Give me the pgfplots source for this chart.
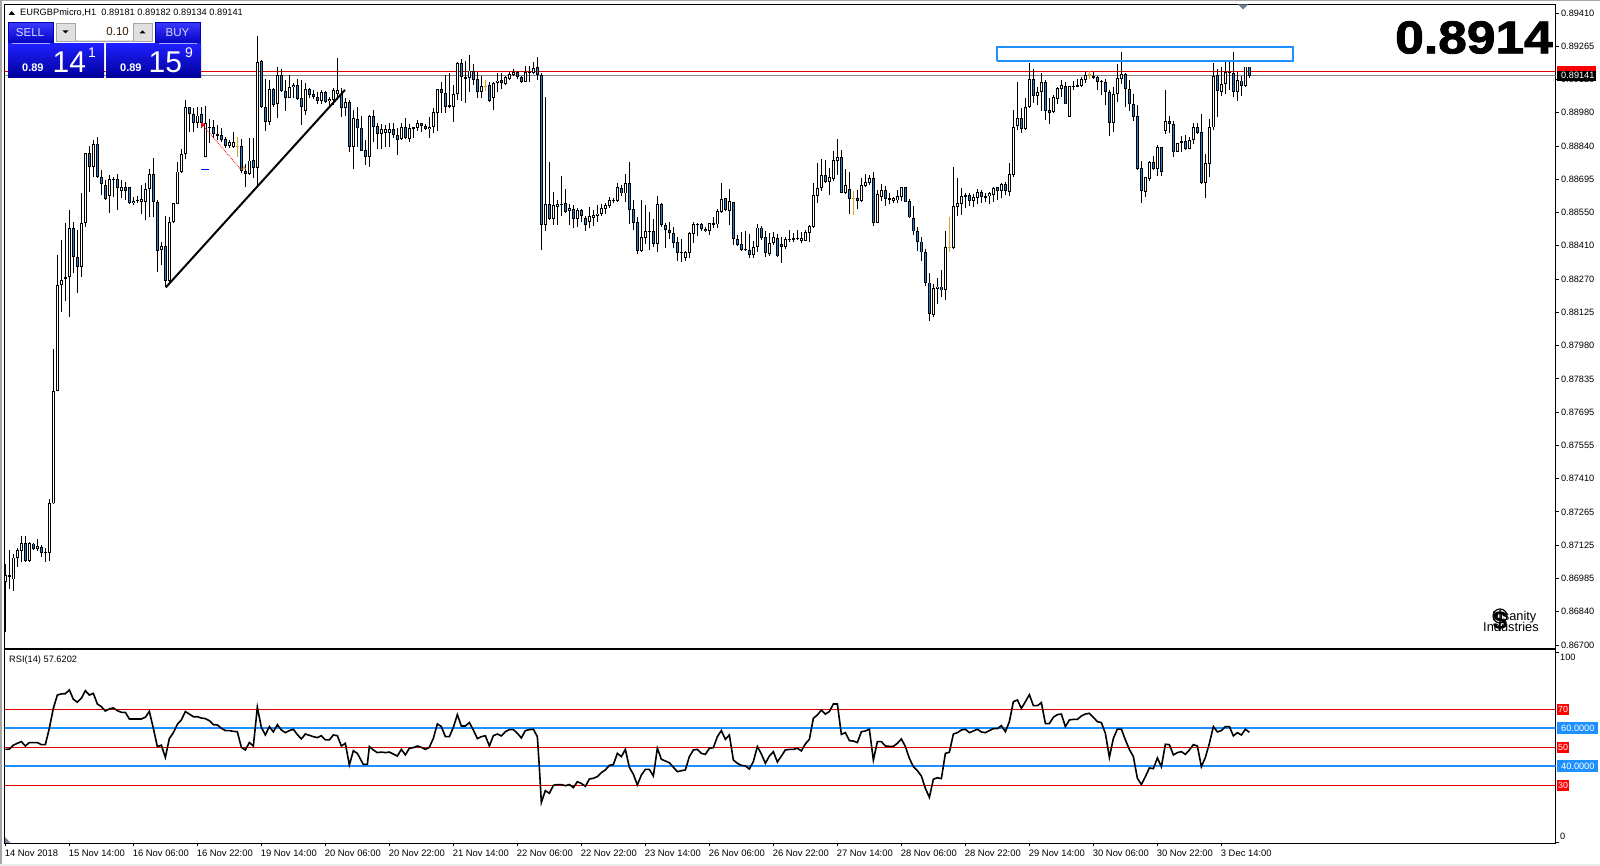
\documentclass[border=0pt]{standalone}
\usepackage{fontspec}
\setmainfont{Liberation Sans}
\newfontfamily\bigfont[UprightFont=* Bold,FakeBold=1.8]{Liberation Sans}
\usepackage{pgfplots}
\usepackage{pgfplotstable}
\pgfplotsset{compat=1.18}
\definecolor{dodger}{HTML}{1E90FF}
\definecolor{candleblue}{HTML}{1E7FD8}
\definecolor{candlegold}{HTML}{DAA520}
\definecolor{slategrey}{HTML}{708090}
\definecolor{lineg}{HTML}{808890}
\definecolor{lred}{HTML}{E00000}
% prices in points (1e-5); k: 0 white, 1 blue, 2 gold
\pgfplotstableread{
i k bot top lo hi
0 0 86971 86999 86756 87049
1 0 86992 86999 86942 87106
2 0 86981 87075 86932 87089
3 0 87075 87109 87035 87118
4 0 87104 87139 87056 87167
5 1 87061 87139 87056 87167
6 0 87061 87137 87056 87142
7 1 87112 87135 87106 87139
8 0 87112 87124 87104 87154
9 1 87096 87121 87078 87128
10 0 87095 87099 87056 87114
11 0 87096 87307 87061 87328
12 0 87307 87790 87304 87967
13 0 87790 88243 87787 88372
14 0 88242 88265 88129 88436
15 0 88268 88276 88175 88508
16 0 88276 88486 88105 88565
17 1 88362 88486 88293 88515
18 1 88322 88362 88208 88479
19 0 88322 88511 88279 88639
20 0 88511 88808 88494 88811
21 1 88751 88808 88644 88841
22 0 88751 88847 88708 88865
23 1 88708 88847 88701 88880
24 1 88675 88708 88629 88737
25 1 88614 88671 88608 88694
26 0 88627 88697 88551 88715
27 1 88692 88697 88622 88708
28 1 88661 88697 88565 88720
29 0 88648 88662 88615 88694
30 1 88648 88662 88608 88687
31 1 88594 88662 88591 88665
32 0 88594 88604 88587 88619
33 1 88602 88608 88597 88625
34 0 88601 88611 88548 88672
35 0 88601 88654 88522 88682
36 0 88654 88720 88536 88741
37 1 88598 88720 88536 88787
38 1 88391 88598 88301 88608
39 0 88393 88412 88329 88429
40 1 88262 88411 88236 88539
41 0 88262 88512 88243 88536
42 0 88512 88594 88508 88594
43 0 88591 88730 88591 88770
44 0 88730 88804 88725 88825
45 0 88804 89006 88782 89037
46 1 88976 89006 88901 89006
47 1 88937 88976 88901 89001
48 0 88940 88970 88915 89006
49 1 88940 88976 88915 89008
50 0 88791 88937 88791 89011
51 1 88918 88923 88851 88954
52 1 88890 88920 88873 88951
53 1 88884 88890 88865 88930
54 1 88865 88885 88858 88915
55 1 88840 88868 88830 88877
56 0 88840 88855 88830 88865
57 0 88837 88855 88830 88901
58 2 88837 88840 88791 88880
59 1 88734 88840 88722 88868
60 1 88718 88734 88662 88762
61 0 88718 88777 88715 88873
62 1 88747 88780 88701 88873
63 0 88747 89200 88672 89312
64 1 89006 89203 89001 89206
65 1 88943 89006 88904 89126
66 0 88944 89083 88930 89123
67 1 89016 89083 89008 89087
68 0 89018 89143 88958 89180
69 1 89077 89143 89073 89169
70 1 89047 89077 88991 89123
71 0 89047 89091 89044 89144
72 0 89091 89101 89044 89108
73 1 89043 89100 89037 89126
74 1 89006 89044 88930 89123
75 0 88991 89083 88973 89108
76 1 89058 89083 89044 89087
77 1 89051 89061 89040 89080
78 1 89033 89051 89020 89073
79 0 89033 89070 89020 89080
80 1 89030 89070 89023 89077
81 0 89031 89040 89011 89051
82 0 89037 89080 89016 89087
83 0 89061 89080 89037 89216
84 1 89001 89061 88963 89087
85 0 89001 89026 88966 89044
86 1 88837 89026 88815 89037
87 0 88837 88958 88740 88994
88 1 88915 88955 88837 89006
89 1 88820 88915 88820 88966
90 1 88791 88822 88758 88865
91 0 88791 88968 88751 88973
92 1 88923 88966 88858 88994
93 1 88891 88925 88825 88940
94 0 88891 88911 88825 88934
95 0 88897 88911 88837 88930
96 0 88897 88911 88837 88940
97 1 88888 88911 88873 88937
98 1 88865 88885 88801 88915
99 0 88868 88919 88865 88937
100 1 88872 88919 88868 88958
101 0 88869 88915 88858 88934
102 0 88914 88919 88872 88922
103 0 88918 88937 88904 88951
104 1 88927 88937 88901 88937
105 1 88911 88927 88908 88934
106 0 88911 88922 88875 88962
107 0 88922 88984 88897 89001
108 0 88982 89082 88905 89082
109 1 89065 89082 88979 89115
110 1 89008 89065 88979 89144
111 1 89007 89014 89001 89151
112 0 89008 89061 88944 89101
113 0 89061 89194 89037 89201
114 1 89134 89194 89034 89211
115 1 89128 89134 89022 89205
116 0 89130 89163 89072 89230
117 1 89124 89160 89101 89191
118 1 89072 89125 89045 89158
119 0 89072 89095 89045 89140
120 2 89092 89097 89075 89122
121 1 89034 89101 89030 89115
122 0 89045 89111 88994 89115
123 0 89108 89120 89072 89151
124 1 89108 89122 89082 89151
125 0 89105 89135 89101 89140
126 0 89128 89147 89122 89158
127 0 89145 89157 89140 89170
128 1 89137 89155 89125 89163
129 1 89115 89135 89111 89140
130 0 89115 89155 89115 89183
131 0 89154 89158 89115 89184
132 0 89154 89174 89147 89200
133 1 89144 89177 89122 89220
134 1 88502 89144 88393 89151
135 0 88502 88589 88475 89048
136 1 88528 88589 88522 88769
137 0 88528 88585 88500 88641
138 0 88579 88589 88500 88608
139 1 88585 88591 88539 88711
140 1 88558 88593 88553 88655
141 0 88559 88572 88500 88591
142 1 88525 88568 88489 88586
143 0 88525 88563 88493 88575
144 1 88540 88563 88515 88571
145 1 88499 88529 88476 88539
146 0 88512 88538 88486 88576
147 0 88532 88542 88496 88565
148 0 88540 88550 88515 88586
149 0 88549 88572 88539 88591
150 0 88571 88585 88550 88593
151 0 88583 88606 88572 88619
152 0 88603 88608 88593 88618
153 0 88605 88662 88601 88679
154 1 88636 88658 88626 88672
155 0 88636 88679 88601 88718
156 1 88566 88679 88503 88769
157 1 88510 88568 88479 88608
158 1 88390 88512 88376 88533
159 0 88390 88448 88386 88608
160 0 88446 88473 88419 88586
161 1 88470 88475 88393 88558
162 1 88420 88473 88407 88525
163 0 88420 88589 88386 88625
164 1 88499 88591 88493 88593
165 1 88478 88499 88403 88508
166 1 88465 88478 88439 88515
167 1 88425 88465 88400 88493
168 1 88379 88426 88346 88450
169 0 88379 88387 88343 88440
170 0 88360 88383 88347 88389
171 0 88379 88466 88360 88472
172 0 88463 88503 88422 88515
173 1 88499 88505 88455 88508
174 1 88485 88503 88476 88510
175 1 88475 88485 88469 88493
176 0 88476 88508 88458 88508
177 0 88502 88508 88488 88533
178 0 88503 88559 88490 88571
179 0 88558 88611 88553 88679
180 1 88565 88615 88561 88618
181 0 88562 88602 88500 88653
182 1 88439 88601 88415 88601
183 1 88416 88439 88410 88458
184 1 88393 88418 88390 88470
185 1 88392 88397 88390 88475
186 1 88373 88393 88360 88462
187 0 88373 88405 88360 88433
188 0 88405 88490 88386 88505
189 1 88446 88490 88436 88496
190 1 88379 88448 88365 88476
191 0 88376 88422 88369 88465
192 0 88422 88448 88415 88472
193 1 88369 88443 88365 88462
194 1 88407 88418 88339 88450
195 0 88407 88440 88396 88450
196 0 88436 88440 88429 88479
197 1 88436 88443 88429 88465
198 0 88440 88446 88436 88479
199 0 88433 88443 88425 88472
200 0 88433 88470 88433 88479
201 0 88465 88496 88429 88500
202 0 88493 88629 88486 88679
203 0 88626 88658 88596 88765
204 0 88658 88714 88648 88782
205 1 88686 88714 88679 88779
206 0 88686 88705 88629 88744
207 0 88699 88779 88691 88818
208 0 88776 88791 88715 88869
209 1 88639 88791 88639 88822
210 0 88639 88671 88633 88739
211 1 88613 88653 88548 88726
212 2 88612 88616 88543 88646
213 1 88605 88615 88569 88651
214 0 88602 88671 88601 88701
215 0 88669 88683 88665 88719
216 0 88682 88701 88672 88715
217 1 88508 88701 88498 88726
218 0 88510 88633 88510 88651
219 0 88622 88649 88605 88675
220 1 88611 88649 88583 88668
221 1 88609 88615 88589 88636
222 0 88605 88615 88593 88622
223 0 88606 88623 88593 88651
224 0 88622 88662 88602 88662
225 1 88601 88662 88601 88662
226 1 88533 88602 88529 88611
227 1 88473 88529 88460 88582
228 1 88429 88473 88390 88493
229 1 88383 88430 88347 88450
230 1 88253 88383 88239 88396
231 1 88121 88254 88090 88297
232 0 88117 88229 88107 88247
233 0 88227 88237 88162 88272
234 1 88220 88237 88190 88307
235 0 88224 88405 88179 88475
236 2 88402 88407 88386 88533
237 0 88402 88581 88399 88751
238 0 88579 88593 88539 88701
239 0 88592 88623 88543 88658
240 1 88622 88629 88572 88636
241 1 88603 88628 88582 88636
242 0 88605 88619 88579 88633
243 0 88618 88642 88589 88653
244 1 88622 88642 88593 88651
245 1 88618 88625 88601 88636
246 0 88623 88638 88591 88643
247 0 88631 88658 88601 88665
248 1 88648 88662 88608 88665
249 0 88648 88675 88615 88682
250 1 88648 88675 88629 88686
251 0 88643 88718 88625 88765
252 0 88715 88922 88708 88994
253 0 88925 88958 88908 89115
254 1 88914 88958 88897 89001
255 0 88912 89008 88908 89044
256 0 89008 89125 89004 89197
257 1 89055 89125 89025 89168
258 0 89055 89070 89015 89094
259 0 89070 89112 88991 89154
260 1 88991 89112 88951 89122
261 1 88982 88992 88934 89044
262 0 88985 89048 88979 89058
263 0 89042 89087 89020 89094
264 0 89084 89100 89051 89122
265 1 89021 89097 89020 89115
266 0 88965 89097 88965 89097
267 1 89094 89098 89080 89120
268 1 89094 89100 89094 89125
269 0 89098 89125 89094 89137
270 0 89122 89145 89111 89158
271 2 89144 89150 89125 89163
272 1 89133 89141 89127 89158
273 1 89115 89134 89080 89140
274 1 89112 89118 89058 89122
275 1 89070 89112 89015 89125
276 1 88937 89070 88882 89080
277 0 88937 89061 88901 89094
278 0 89061 89130 89030 89191
279 0 89128 89147 89105 89243
280 1 89082 89147 89005 89154
281 1 89021 89082 88991 89122
282 1 88965 89020 88948 89061
283 1 88742 88967 88736 89015
284 1 88648 88744 88596 88775
285 0 88643 88705 88622 88708
286 0 88699 88771 88691 88775
287 1 88741 88771 88736 88796
288 0 88741 88835 88711 88844
289 1 88729 88834 88711 88837
290 0 88905 88945 88891 89080
291 1 88935 88945 88897 88968
292 1 88815 88932 88794 88948
293 0 88815 88851 88814 88854
294 0 88851 88859 88815 88882
295 1 88828 88859 88822 88887
296 0 88828 88864 88825 88877
297 0 88864 88919 88848 88939
298 1 88897 88919 88891 88939
299 1 88682 88898 88676 88975
300 0 88682 88765 88618 88805
301 0 88764 88919 88708 88954
302 0 88919 89140 88908 89197
303 1 89074 89143 88962 89168
304 0 89073 89104 89054 89180
305 0 89104 89158 89062 89208
306 0 89153 89158 89080 89205
307 1 89070 89151 89051 89243
308 0 89070 89122 89034 89158
309 1 89098 89120 89054 89140
310 0 89098 89180 89094 89180
311 1 89141 89180 89133 89180
}\ohlc
\pgfplotstableread{
i rsi
0 48.9
1 49.1
2 51.1
3 52.1
4 53
5 50.7
6 52.5
8 52.5
9 51.4
10 51.4
11 60
12 70.5
13 77.5
14 78.1
15 78.2
16 80.2
17 75.3
18 73.7
19 75.8
20 79.8
21 77.5
22 78.4
23 72.8
24 71.4
25 69.1
26 70.2
27 70.7
28 69.3
29 68.4
30 68.4
31 64.9
32 64.9
34 64.9
35 65.8
36 68.9
37 60
38 50.4
39 51.1
40 44.7
41 54.6
42 57.7
43 62.1
44 64.4
45 68.8
46 67.5
47 66.1
48 66.1
49 65.4
50 65.1
51 64
52 61.9
53 61.8
54 60
55 58.8
56 58.8
57 58.4
58 58.2
59 50
60 48.6
61 52.5
62 50.7
63 71.1
64 60.5
65 56.5
66 60.9
67 58.1
68 61.9
69 59.1
70 57.7
71 58.8
72 59.5
73 56.7
74 54.4
75 57
76 56.3
77 55.6
78 55.1
79 56.1
80 53.9
81 53.9
82 56.5
83 56.1
84 50.7
85 52.1
86 40.7
87 48.2
88 46.8
89.5 41
90.5 41
91 50.4
92 48.6
93 47.2
94 47.5
95 47.2
96 47.5
98 45.4
99 48.9
100 46
101 49.5
102 49.8
103 50.7
104 50
105 48.9
106 50
107 54.7
108 62.3
109 60.9
110 55.6
111 55.6
112 60.5
113 67.2
114 61.2
115 61.2
116 63
117 59.1
118 54.6
119 55.6
120 56.1
121 50.7
122 56.1
123 57
124 56
125 58.2
126 59.3
127 59.3
128 57.4
129 54.9
130 58.8
131 59.3
132 59.5
133 55.6
133.5 39.5
134 20.9
135 27.2
136 25.8
137 30
138 30.4
139 30.4
140 29.8
141 30.4
142 28.8
143 31.9
144 31
145 29.5
146 33.3
147 33.7
148 34.6
149 36.7
150 38.1
151 40.5
152 40.9
153 46.8
154 45.1
155 48.9
156 39.5
157 35.8
158 30.2
159 35.4
160 38.4
161 38.4
162 34.9
163 49.5
164 43.7
165 42.8
166 41.9
167 39.5
168 37.2
169 37.7
170 38.1
171 45.1
172 48.6
173 48.9
174 46.8
175 46.3
176 49.5
177 49.8
178 55.6
179 58.8
180 54.2
181 56.5
182 43.3
183 41.6
184 40.5
185 40.2
186 38.6
187 42.5
188 50.4
189 46.5
190 41.6
191 45.4
192 47.7
193 42.3
194 45.4
195 48.6
196 48.9
197 48.9
198 49.5
199 48.1
200 51.8
201 54.2
202 65.3
203 67
204 69.6
205 67.5
206 68.8
207 72.8
208 72.8
209 56.8
210 57.7
211 53.5
212 53.3
213 52.5
214 58.2
215 58.6
216 59.5
217 43.3
218 53
219 53
220 50.7
221 50.5
222 50.5
223 52.1
224 54.4
225 50.4
226 44.2
227 39.8
228 37.7
229 34.9
230 28.4
231 23.7
232 33.2
233 34
234 33.5
235 46.8
236 47.4
237 57
238 57.7
239 59.1
240 59.5
241 57.7
242 58.6
243 59.5
244 58.1
245 57.7
246 58.8
247 59.8
248 59.8
249 61.4
250 58.2
251 63.5
252 74
253 74.9
254 70.5
255 74
256 77.7
257 71.9
258 71.9
259 73.5
260 62.5
261 62.5
262 65.8
263 67.2
264 67.5
265 60.9
266 64.4
267 64.7
268 64.7
269 66.5
270 67.5
271 67.9
272 65.8
273 63.5
274 63
275 57.4
276 44.7
277 54.7
278 59.6
279 59.6
280 53.9
281 48.9
282 45.1
283 33.7
284 30.4
285 34.6
286 39.1
287 38.8
288 44.4
289 39.8
290 51.6
291 51.4
292 46
293 47.2
294 47.7
295 46.3
296 48.6
297 51.4
298 50.7
299 39.8
300 44.7
301 52.1
302 60.9
303 58.1
304 58.8
305 60.9
306 60.9
307 56
308 57.7
309 56.5
310 59.5
311 57.9
}\rsidata
\pgfplotsset{
  candle/.style 2 args={draw=none,mark=none,forget plot,
    error bars/.cd,y dir=plus,y explicit,error mark=none,
    error bar style={line width=#1,draw=#2,line cap=butt,solid}},
  pane/.style={scale only axis,width=1551pt,xmin=-0.21,xmax=387.54,
    axis line style={black,line width=1pt},
    tick style={black,line width=0.8pt},tick align=outside,major tick length=3pt,
    ytick pos=right,yticklabel pos=right,
    tick label style={font=\fontsize{9.2}{10}\selectfont}},
}
\newcommand\wick[3]{\addplot[candle={#1}{#2}] table[x expr={#3?\thisrow{i}:nan},y=lo,y error plus expr={\thisrow{hi}-\thisrow{lo}}] {\ohlc};}
\newcommand\body[3]{\addplot[candle={#1}{#2}] table[x expr={#3?\thisrow{i}:nan},y=bot,y error plus expr={\thisrow{top}-\thisrow{bot}}] {\ohlc};}
\newcommand\inner[3]{\addplot[candle={#1}{#2}] table[x expr={#3?\thisrow{i}:nan},y expr={\thisrow{bot}+4},y error plus expr={max(\thisrow{top}-\thisrow{bot}-8,0)}] {\ohlc};}
\begin{document}
\begin{tikzpicture}[x=1pt,y=1pt]
\useasboundingbox (0,0) rectangle (1600,866);
\fill[white] (0,0) rectangle (1600,866);
\begin{axis}[pane,at={(4.5pt,217.7pt)},anchor=south west,height=644pt,
  ymin=86686,ymax=89447,xtick=\empty,
  ytick={86700,86843,86985,87128,87271,87413,87556,87698,87841,87984,88126,88269,88412,88554,88697,88839,88982,89125,89267,89410},
  yticklabels={0.86700,0.86840,0.86985,0.87125,0.87265,0.87410,0.87555,0.87695,0.87835,0.87980,0.88125,0.88270,0.88410,0.88550,0.88695,0.88840,0.88980,0.89120,0.89265,0.89410},
  yticklabel style={anchor=west,xshift=-1pt}]
\addplot[lred,line width=1.2pt,forget plot] coordinates {(-1,89158)(388,89158)};
\addplot[lineg,line width=1.2pt,forget plot] coordinates {(-1,89141)(388,89141)};
% wicks, then box outlines, then box insides
\wick{1pt}{black}{\thisrow{k}<2}
\wick{1pt}{candlegold}{\thisrow{k}==2}
\body{3.2pt}{black}{\thisrow{k}<2}
\body{3pt}{candlegold}{\thisrow{k}==2}
\inner{1.25pt}{white}{\thisrow{k}==0}
\inner{1.25pt}{candleblue}{\thisrow{k}==1}
% drawn objects
\addplot[black,line width=2pt,forget plot] coordinates {(40.1,88233)(84.9,89080)};
\addplot[dodger,line width=1.8pt,forget plot] coordinates {(248,89204)(322,89204)(322,89264)(248,89264)(248,89204)};
\addplot[red,densely dotted,line width=0.8pt,forget plot] coordinates {(49.1,88934)(59.1,88734)};
\addplot[blue,line width=1pt,forget plot] coordinates {(49,88737)(51,88737)};
\addplot[red,only marks,mark=triangle*,mark size=2.6pt,mark options={rotate=150},forget plot] coordinates {(49.3,88930)};
\addplot[candlegold,only marks,mark=triangle*,mark size=1.8pt,forget plot] coordinates {(59.7,88745)};
\end{axis}
\begin{axis}[pane,at={(4.5pt,22.7pt)},anchor=south west,height=193.3pt,
  ymin=-0.5,ymax=101.2,ytick={0,100},yticklabels={},
  xtick={0,16,...,304},
  xticklabels={14 Nov 2018,15 Nov 14:00,16 Nov 06:00,16 Nov 22:00,19 Nov 14:00,20 Nov 06:00,20 Nov 22:00,21 Nov 14:00,22 Nov 06:00,22 Nov 22:00,23 Nov 14:00,26 Nov 06:00,26 Nov 22:00,27 Nov 14:00,28 Nov 06:00,28 Nov 22:00,29 Nov 14:00,30 Nov 06:00,30 Nov 22:00,3 Dec 14:00},
  xtick pos=bottom,
  xticklabel style={anchor=north west,xshift=-4pt,yshift=0pt,font=\fontsize{9.4}{10}\selectfont}]
\addplot[lred,line width=1pt,forget plot] coordinates {(-1,70)(388,70)};
\addplot[lred,line width=1pt,forget plot] coordinates {(-1,50)(388,50)};
\addplot[lred,line width=1pt,forget plot] coordinates {(-1,30)(388,30)};
\addplot[dodger,line width=2pt,forget plot] coordinates {(-1,60)(388,60)};
\addplot[dodger,line width=2pt,forget plot] coordinates {(-1,40)(388,40)};
\addplot[black,line width=1.6pt] table[x=i,y=rsi] {\rsidata};
\end{axis}
% window furniture, in picture pixels from the top left
\begin{scope}[shift={(0,866)},y=-1pt]
\fill[black!35] (0,0) rectangle (1600,1.5);
\fill[black!35] (0,0) rectangle (2,866);
\fill[black!8] (0,864) rectangle (1600,866);
\fill[slategrey] (1238,4.5) -- (1248,4.5) -- (1243,9.5) -- cycle;
\fill[slategrey] (5,837) -- (10.5,843) -- (5,843) -- cycle;
\fill[black] (8.5,15) -- (15,15) -- (11.7,11) -- cycle;
\node[anchor=west,inner sep=0,font=\fontsize{9.25}{10}\selectfont] at (20,12.7) {EURGBPmicro,H1\ \ 0.89181 0.89182 0.89134 0.89141};
\node[anchor=west,inner sep=0,font=\fontsize{9.25}{10}\selectfont] at (9,659.7) {RSI(14) 57.6202};
% one-click panel
\shade[top color=blue!78!white,bottom color=blue!75!black,draw=blue!70!black] (8,22.5) rectangle (53.5,44);
\shade[top color=blue!78!white,bottom color=blue!75!black,draw=blue!70!black] (155.5,22.5) rectangle (200.5,44);
\shade[top color=blue!88!white,bottom color=blue!60!black] (8,44) rectangle (104,78);
\shade[top color=blue!88!white,bottom color=blue!60!black] (106,44) rectangle (201,78);
\fill[black!12,draw=black!35] (56.5,23) rectangle (152.5,41);
\fill[white] (75.5,23.5) rectangle (133.5,40.5);
\draw[black!35] (75.5,23) -- (75.5,41) (133.5,23) -- (133.5,41);
\fill[black] (62.5,30.5) -- (68.5,30.5) -- (65.5,33.5) -- cycle;
\fill[black] (139.5,33.5) -- (145.5,33.5) -- (142.5,30.5) -- cycle;
\draw[blue!35!white,line width=0.7pt] (12,43.6) -- (50,43.6) (159,43.6) -- (197,43.6);
\node[anchor=east,inner sep=0,text=black!65!orange!60!black,font=\fontsize{11.5}{12}\selectfont] at (129,31.5) {0.10};
\node[text=white!85!blue,inner sep=0,font=\fontsize{11.5}{12}\selectfont] at (30,32.5) {SELL};
\node[text=white!85!blue,inner sep=0,font=\fontsize{11.5}{12}\selectfont] at (177.5,32.5) {BUY};
\node[text=white,anchor=west,inner sep=0,font=\fontsize{11}{12}\selectfont\bfseries] at (22,68) {0.89};
\node[text=white,anchor=west,inner sep=0,font=\fontsize{11}{12}\selectfont\bfseries] at (120,68) {0.89};
\node[text=white,anchor=west,inner sep=0,font=\fontsize{30}{32}\selectfont] at (52.5,62) {14};
\node[text=white,anchor=west,inner sep=0,font=\fontsize{30}{32}\selectfont] at (148.5,62) {15};
\node[text=white,anchor=west,inner sep=0,font=\fontsize{14}{15}\selectfont] at (88,53) {1};
\node[text=white,anchor=west,inner sep=0,font=\fontsize{14}{15}\selectfont] at (185,53) {9};
% big price
\node[anchor=east,inner sep=0,font=\fontsize{46}{48}\bigfont] at (1553,37.5) {\scalebox{1.12}[1]{0.8914}};
% price tags
\fill[red] (1557,66) rectangle (1596,72);
\fill[black] (1557,71.3) rectangle (1596,80.7);
\node[anchor=west,inner sep=0,text=white,font=\fontsize{9.2}{10}\selectfont] at (1561,75.8) {0.89141};
\fill[red] (1557,704) rectangle (1569,715);
\fill[red] (1557,741.7) rectangle (1569,753);
\fill[red] (1557,779.7) rectangle (1569,791);
\fill[dodger] (1557,722) rectangle (1598,734);
\fill[dodger] (1557,760) rectangle (1598,772);
\node[inner sep=0,text=white,font=\fontsize{8.9}{10}\selectfont] at (1563,709.5) {70};
\node[inner sep=0,text=white,font=\fontsize{8.9}{10}\selectfont] at (1563,747.5) {50};
\node[inner sep=0,text=white,font=\fontsize{8.9}{10}\selectfont] at (1563,785.5) {30};
\node[anchor=west,inner sep=0,text=white,font=\fontsize{9.2}{10}\selectfont] at (1561,728) {60.0000};
\node[anchor=west,inner sep=0,text=white,font=\fontsize{9.2}{10}\selectfont] at (1561,766) {40.0000};
\node[anchor=west,inner sep=0,font=\fontsize{9.2}{10}\selectfont] at (1560,657) {100};
\node[anchor=west,inner sep=0,font=\fontsize{9.2}{10}\selectfont] at (1560,836.5) {0};
% watermark
\draw[line width=1.2pt] (1500,616) circle (7);
\node[inner sep=0,font=\fontsize{26}{28}\selectfont\bfseries] at (1500,621) {\$};
\node[anchor=west,inner sep=0,font=\fontsize{12.8}{14}\selectfont] at (1492,617) {Insanity};
\node[anchor=west,inner sep=0,font=\fontsize{12.8}{14}\selectfont] at (1483,627) {Industries};
\end{scope}
\end{tikzpicture}
\end{document}
